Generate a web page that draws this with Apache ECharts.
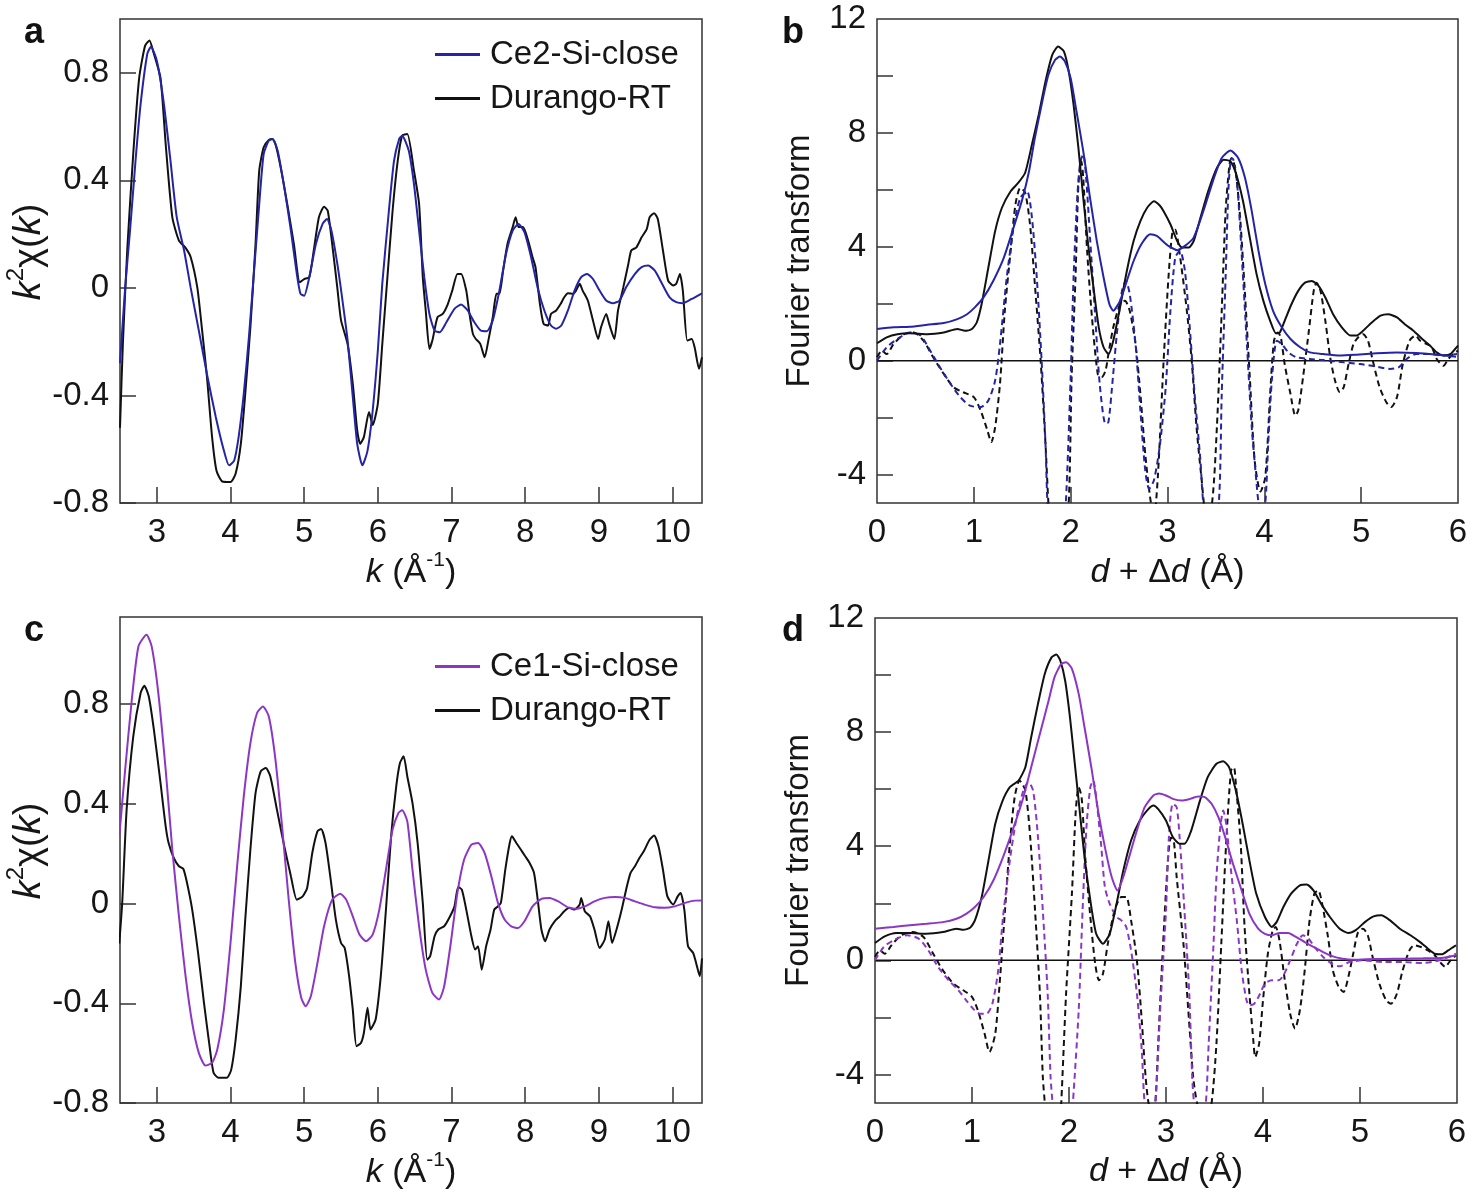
<!DOCTYPE html>
<html><head><meta charset="utf-8">
<script src="https://cdn.jsdelivr.net/npm/echarts@6.0.0/dist/echarts.min.js"></script>
<style>html,body{margin:0;padding:0;background:#fff}#c{width:1481px;height:1200px}</style>
</head><body><div id="c"></div><script>
// ---------- Panel a : k^2 chi(k) ----------
const aDurango = [[2.50,-0.52],[2.54,-0.2],[2.60,0.15],[2.68,0.5],[2.76,0.78],[2.84,0.9],[2.90,0.92],[2.95,0.88],[3.05,0.78],[3.12,0.535],[3.21,0.263],[3.30,0.176],[3.39,0.149],[3.46,0.114],[3.55,0.0],[3.61,-0.146],[3.68,-0.33],[3.75,-0.555],[3.81,-0.68],[3.89,-0.72],[4.0,-0.722],[4.07,-0.69],[4.14,-0.58],[4.20,-0.394],[4.27,-0.146],[4.34,0.164],[4.39,0.436],[4.45,0.523],[4.52,0.55],[4.57,0.554],[4.61,0.535],[4.68,0.449],[4.77,0.312],[4.86,0.164],[4.94,0.021],[5.0,0.033],[5.07,0.04],[5.13,0.139],[5.20,0.263],[5.27,0.302],[5.32,0.287],[5.38,0.164],[5.45,0.0],[5.50,-0.12],[5.59,-0.21],[5.66,-0.357],[5.72,-0.53],[5.76,-0.58],[5.81,-0.555],[5.88,-0.462],[5.93,-0.51],[6.0,-0.43],[6.06,-0.21],[6.13,0.04],[6.20,0.287],[6.27,0.473],[6.33,0.566],[6.40,0.572],[6.49,0.436],[6.56,0.312],[6.61,0.04],[6.65,-0.084],[6.70,-0.227],[6.74,-0.196],[6.81,-0.109],[6.88,-0.097],[6.95,-0.06],[7.01,-0.01],[7.08,0.052],[7.13,0.052],[7.20,-0.01],[7.24,-0.09],[7.29,-0.171],[7.33,-0.19],[7.39,-0.208],[7.45,-0.258],[7.50,-0.196],[7.56,-0.109],[7.61,-0.022],[7.65,-0.022],[7.70,0.064],[7.76,0.164],[7.83,0.226],[7.87,0.263],[7.91,0.226],[7.97,0.226],[8.04,0.176],[8.10,0.114],[8.14,0.077],[8.20,-0.06],[8.25,-0.134],[8.31,-0.14],[8.35,-0.097],[8.42,-0.084],[8.48,-0.06],[8.53,-0.035],[8.58,-0.02],[8.65,-0.022],[8.69,-0.01],[8.74,0.015],[8.78,-0.01],[8.85,-0.047],[8.92,-0.121],[8.99,-0.19],[9.03,-0.146],[9.10,-0.097],[9.14,-0.134],[9.21,-0.19],[9.26,-0.084],[9.33,0.0],[9.40,0.089],[9.44,0.139],[9.51,0.151],[9.58,0.188],[9.65,0.219],[9.69,0.263],[9.75,0.278],[9.80,0.256],[9.87,0.139],[9.94,0.027],[10.01,0.009],[10.05,0.015],[10.10,0.052],[10.14,-0.01],[10.20,-0.196],[10.26,-0.19],[10.30,-0.221],[10.36,-0.301],[10.40,-0.258]];
const aModel = [[2.50,-0.28],[2.57,0.0],[2.64,0.226],[2.71,0.47],[2.78,0.684],[2.87,0.87],[2.92,0.897],[3.0,0.845],[3.09,0.696],[3.18,0.486],[3.27,0.263],[3.37,0.139],[3.46,0.0],[3.57,-0.159],[3.68,-0.32],[3.80,-0.48],[3.91,-0.605],[3.98,-0.66],[4.05,-0.642],[4.11,-0.555],[4.18,-0.394],[4.25,-0.183],[4.32,0.064],[4.39,0.312],[4.45,0.498],[4.52,0.548],[4.57,0.554],[4.64,0.51],[4.73,0.374],[4.82,0.213],[4.90,0.052],[4.95,-0.022],[5.0,-0.029],[5.07,0.04],[5.16,0.164],[5.25,0.238],[5.31,0.256],[5.37,0.213],[5.45,0.089],[5.52,-0.047],[5.59,-0.196],[5.66,-0.406],[5.72,-0.58],[5.79,-0.66],[5.86,-0.605],[5.93,-0.456],[6.0,-0.233],[6.06,0.015],[6.15,0.287],[6.22,0.473],[6.29,0.554],[6.33,0.566],[6.42,0.51],[6.49,0.387],[6.56,0.213],[6.63,0.04],[6.70,-0.097],[6.77,-0.159],[6.84,-0.165],[6.93,-0.128],[7.04,-0.078],[7.13,-0.062],[7.22,-0.084],[7.31,-0.128],[7.40,-0.159],[7.48,-0.161],[7.56,-0.121],[7.65,-0.01],[7.74,0.126],[7.83,0.213],[7.91,0.238],[7.99,0.207],[8.08,0.114],[8.17,0.0],[8.26,-0.084],[8.35,-0.14],[8.42,-0.152],[8.49,-0.14],[8.58,-0.084],[8.67,-0.01],[8.76,0.04],[8.84,0.052],[8.92,0.033],[9.01,-0.01],[9.10,-0.047],[9.19,-0.057],[9.28,-0.047],[9.37,0.002],[9.49,0.052],[9.58,0.077],[9.67,0.083],[9.76,0.064],[9.87,0.009],[9.96,-0.035],[10.05,-0.053],[10.14,-0.057],[10.26,-0.041],[10.40,-0.02]];

// ---------- Panel c : k^2 chi(k) ----------
const cDurango = [[2.49,-0.16],[2.53,0.003],[2.59,0.377],[2.68,0.671],[2.78,0.845],[2.83,0.874],[2.89,0.832],[2.96,0.698],[3.05,0.484],[3.12,0.31],[3.16,0.243],[3.23,0.183],[3.30,0.15],[3.36,0.139],[3.41,0.083],[3.48,-0.024],[3.56,-0.198],[3.64,-0.398],[3.71,-0.559],[3.77,-0.679],[3.84,-0.699],[3.95,-0.699],[4.01,-0.666],[4.07,-0.545],[4.14,-0.332],[4.20,-0.064],[4.27,0.217],[4.34,0.444],[4.41,0.531],[4.48,0.544],[4.54,0.511],[4.63,0.377],[4.73,0.23],[4.82,0.11],[4.90,0.016],[4.98,0.029],[5.04,0.063],[5.11,0.203],[5.18,0.29],[5.23,0.299],[5.29,0.243],[5.36,0.096],[5.43,-0.064],[5.50,-0.158],[5.55,-0.178],[5.61,-0.291],[5.66,-0.425],[5.71,-0.572],[5.77,-0.559],[5.81,-0.519],[5.86,-0.418],[5.90,-0.505],[5.97,-0.465],[6.04,-0.291],[6.11,-0.024],[6.18,0.27],[6.25,0.471],[6.30,0.564],[6.35,0.591],[6.40,0.51],[6.47,0.404],[6.54,0.243],[6.61,0.003],[6.67,-0.225],[6.71,-0.211],[6.77,-0.131],[6.82,-0.104],[6.90,-0.091],[6.97,-0.057],[7.04,-0.011],[7.09,0.067],[7.14,0.056],[7.20,-0.024],[7.27,-0.131],[7.32,-0.184],[7.36,-0.171],[7.41,-0.265],[7.47,-0.171],[7.53,-0.104],[7.58,-0.024],[7.63,-0.011],[7.67,0.003],[7.73,0.136],[7.79,0.243],[7.82,0.27],[7.88,0.243],[7.94,0.217],[8.0,0.19],[8.06,0.163],[8.12,0.123],[8.17,0.016],[8.22,-0.104],[8.27,-0.151],[8.33,-0.104],[8.40,-0.071],[8.47,-0.051],[8.53,-0.031],[8.60,-0.017],[8.67,-0.024],[8.74,-0.004],[8.76,0.023],[8.81,-0.031],[8.88,-0.051],[8.94,-0.104],[9.01,-0.178],[9.08,-0.144],[9.13,-0.071],[9.18,-0.158],[9.24,-0.104],[9.31,-0.024],[9.37,0.056],[9.43,0.123],[9.49,0.15],[9.55,0.183],[9.61,0.21],[9.69,0.257],[9.75,0.273],[9.81,0.23],[9.87,0.136],[9.93,0.029],[10.01,-0.004],[10.07,0.029],[10.11,0.043],[10.16,-0.024],[10.21,-0.171],[10.28,-0.198],[10.32,-0.238],[10.37,-0.291],[10.40,-0.22]];
const cModel = [[2.49,0.27],[2.57,0.537],[2.66,0.818],[2.75,1.032],[2.86,1.079],[2.93,1.032],[3.02,0.845],[3.12,0.537],[3.21,0.217],[3.30,-0.051],[3.39,-0.291],[3.48,-0.479],[3.57,-0.599],[3.66,-0.65],[3.75,-0.639],[3.82,-0.586],[3.91,-0.425],[4.0,-0.158],[4.09,0.15],[4.18,0.43],[4.27,0.644],[4.36,0.765],[4.44,0.791],[4.52,0.751],[4.61,0.578],[4.70,0.31],[4.79,0.016],[4.88,-0.238],[4.96,-0.378],[5.02,-0.412],[5.09,-0.372],[5.18,-0.238],[5.27,-0.091],[5.38,0.016],[5.49,0.04],[5.57,0.016],[5.66,-0.051],[5.75,-0.124],[5.84,-0.151],[5.93,-0.124],[6.02,-0.024],[6.11,0.136],[6.20,0.297],[6.28,0.364],[6.33,0.375],[6.40,0.33],[6.47,0.136],[6.56,-0.091],[6.65,-0.265],[6.74,-0.358],[6.83,-0.385],[6.90,-0.332],[6.99,-0.158],[7.08,0.043],[7.17,0.176],[7.27,0.237],[7.36,0.243],[7.45,0.203],[7.54,0.11],[7.63,0.003],[7.72,-0.064],[7.81,-0.091],[7.90,-0.098],[7.99,-0.071],[8.10,-0.011],[8.22,0.019],[8.33,0.023],[8.45,0.009],[8.58,-0.015],[8.69,-0.021],[8.81,-0.011],[8.94,0.009],[9.08,0.023],[9.22,0.027],[9.35,0.023],[9.49,0.009],[9.62,-0.004],[9.76,-0.015],[9.89,-0.017],[10.03,-0.011],[10.17,0.003],[10.30,0.012],[10.40,0.013]];

// ---------- Panel b : Fourier transform ----------
const bDurango = [[0,0.61],[0.10,0.82],[0.21,0.93],[0.34,0.96],[0.52,0.93],[0.69,0.99],[0.83,1.11],[0.91,1.05],[0.98,1.11],[1.03,1.34],[1.08,1.98],[1.15,3.27],[1.22,4.55],[1.29,5.37],[1.38,5.95],[1.46,6.25],[1.53,6.6],[1.60,7.59],[1.67,8.64],[1.74,9.81],[1.81,10.74],[1.87,11.03],[1.93,10.86],[1.98,10.16],[2.03,8.99],[2.08,7.47],[2.13,5.72],[2.18,4.09],[2.24,2.45],[2.29,1.17],[2.34,0.47],[2.39,0.23],[2.44,0.70],[2.51,1.87],[2.58,3.15],[2.65,4.2],[2.72,4.9],[2.79,5.37],[2.86,5.6],[2.92,5.45],[2.96,5.25],[3.03,4.79],[3.10,4.2],[3.15,3.97],[3.22,3.97],[3.27,4.2],[3.34,5.02],[3.42,5.95],[3.51,6.77],[3.58,7.06],[3.65,7.0],[3.71,6.54],[3.78,5.6],[3.85,4.32],[3.92,3.04],[3.99,2.1],[4.06,1.4],[4.12,0.96],[4.16,0.99],[4.21,1.4],[4.28,1.98],[4.35,2.45],[4.42,2.74],[4.49,2.80],[4.56,2.63],[4.63,2.22],[4.71,1.63],[4.80,1.17],[4.89,0.88],[4.95,0.88],[5.02,1.05],[5.11,1.34],[5.20,1.58],[5.28,1.63],[5.37,1.52],[5.45,1.28],[5.54,1.05],[5.63,0.76],[5.71,0.53],[5.78,0.29],[5.85,0.18],[5.92,0.23],[5.97,0.41],[6.0,0.53]];
const bModel = [[0,1.11],[0.17,1.17],[0.34,1.19],[0.52,1.26],[0.69,1.32],[0.83,1.46],[0.93,1.63],[1.01,1.87],[1.10,2.22],[1.20,2.80],[1.31,3.62],[1.41,4.67],[1.50,5.66],[1.57,6.65],[1.63,7.82],[1.70,8.99],[1.77,10.04],[1.84,10.57],[1.89,10.68],[1.94,10.51],[2.0,9.92],[2.06,8.76],[2.13,7.36],[2.20,5.72],[2.27,4.2],[2.34,2.92],[2.40,1.98],[2.44,1.75],[2.51,2.10],[2.58,2.80],[2.65,3.5],[2.73,4.09],[2.82,4.44],[2.89,4.38],[2.95,4.2],[3.01,4.03],[3.10,3.88],[3.18,4.03],[3.27,4.32],[3.37,5.25],[3.48,6.42],[3.56,7.12],[3.65,7.38],[3.73,7.12],[3.80,6.42],[3.87,5.25],[3.94,3.85],[4.01,2.68],[4.09,1.75],[4.18,1.17],[4.27,0.76],[4.37,0.47],[4.47,0.29],[4.61,0.23],[4.78,0.18],[4.95,0.21],[5.16,0.26],[5.37,0.29],[5.57,0.27],[5.78,0.21],[5.98,0.14]];
const bDurangoIm = [[0,0.12],[0.05,0.35],[0.10,0.23],[0.17,0.58],[0.28,0.93],[0.38,0.99],[0.48,0.70],[0.58,0.12],[0.69,-0.47],[0.79,-0.93],[0.89,-1.11],[1.0,-1.28],[1.07,-1.75],[1.14,-2.45],[1.18,-2.86],[1.22,-2.34],[1.27,-0.82],[1.32,1.75],[1.38,3.85],[1.43,5.49],[1.48,6.07],[1.53,5.9],[1.58,4.79],[1.63,2.69],[1.69,0.0],[1.74,-2.92],[1.77,-5.0],[1.87,-10.5],[1.98,-5.0],[2.01,-0.58],[2.05,2.92],[2.08,6.19],[2.11,7.0],[2.13,6.42],[2.17,3.85],[2.22,1.52],[2.28,-0.47],[2.32,-0.58],[2.36,-0.35],[2.39,0.23],[2.44,1.17],[2.51,1.98],[2.56,2.1],[2.61,1.75],[2.67,0.58],[2.72,-1.17],[2.77,-3.27],[2.82,-4.79],[2.86,-5.5],[2.90,-4.09],[2.96,0],[3.01,2.92],[3.05,4.5],[3.08,4.6],[3.12,3.9],[3.20,1.75],[3.25,0],[3.30,-2.34],[3.35,-4.09],[3.40,-5.4],[3.46,-5.0],[3.51,-2.34],[3.56,1.75],[3.60,5.25],[3.64,6.89],[3.66,7.1],[3.70,6.77],[3.75,5.02],[3.80,2.34],[3.85,-0.58],[3.90,-3.5],[3.96,-4.6],[4.01,-4.09],[4.06,-1.17],[4.10,0.7],[4.14,0.99],[4.17,0.82],[4.21,-0.12],[4.27,-1.17],[4.32,-1.93],[4.35,-1.75],[4.40,-0.58],[4.46,1.05],[4.51,2.45],[4.54,2.74],[4.58,2.45],[4.63,1.4],[4.68,0.12],[4.73,-0.7],[4.78,-1.11],[4.82,-0.93],[4.87,-0.12],[4.92,0.58],[4.97,0.82],[5.02,0.93],[5.07,0.70],[5.12,0],[5.19,-0.93],[5.26,-1.46],[5.31,-1.63],[5.37,-1.28],[5.43,-0.12],[5.50,0.7],[5.56,0.88],[5.61,0.70],[5.68,0.58],[5.73,0.47],[5.78,0.06],[5.85,-0.18],[5.90,0.06],[5.95,0.23],[6.0,0.35]];
const bModelIm = [[0,0],[0.10,0.47],[0.21,0.76],[0.34,0.99],[0.45,0.88],[0.55,0.35],[0.65,-0.23],[0.76,-0.82],[0.86,-1.28],[0.96,-1.58],[1.07,-1.63],[1.15,-1.4],[1.22,-0.7],[1.27,0.58],[1.34,2.92],[1.41,4.67],[1.48,5.72],[1.55,5.95],[1.60,5.02],[1.65,2.92],[1.70,0],[1.74,-2.92],[1.76,-5.0],[1.85,-10.2],[1.95,-5.0],[2.0,-0.58],[2.03,2.92],[2.07,5.84],[2.10,7.0],[2.13,7.24],[2.16,6.42],[2.20,4.32],[2.25,1.75],[2.30,-0.82],[2.36,-2.22],[2.39,-2.16],[2.43,-0.82],[2.48,1.05],[2.53,2.45],[2.57,2.80],[2.61,2.34],[2.67,0.58],[2.72,-1.75],[2.77,-3.85],[2.81,-4.5],[2.86,-4.2],[2.92,-3.0],[2.98,-1.0],[3.03,1.75],[3.08,3.62],[3.13,3.85],[3.18,3.15],[3.23,1.17],[3.28,-1.17],[3.34,-3.5],[3.37,-5.0],[3.45,-6.5],[3.53,-5.0],[3.56,-1.17],[3.60,2.92],[3.63,6.07],[3.66,7.12],[3.68,7.06],[3.72,6.19],[3.77,3.5],[3.82,0.58],[3.87,-2.34],[3.92,-4.32],[3.94,-5.0],[3.97,-5.5],[4.01,-5.0],[4.04,-2.92],[4.08,-0.58],[4.13,0.7],[4.18,0.58],[4.25,0.29],[4.33,0.12],[4.47,0.06],[4.61,0.02],[4.82,-0.06],[4.99,-0.12],[5.16,-0.21],[5.30,-0.29],[5.39,-0.23],[5.47,0.06],[5.57,0.23],[5.71,0.23],[5.85,0.18],[5.99,0.23]];

// ---------- Panel d : Fourier transform ----------
const dDurango = [[0,0.61],[0.10,0.84],[0.22,0.96],[0.36,0.96],[0.53,0.93],[0.70,0.99],[0.84,1.11],[0.91,1.07],[0.98,1.14],[1.03,1.4],[1.10,2.22],[1.17,3.5],[1.24,4.79],[1.31,5.55],[1.39,6.07],[1.48,6.3],[1.55,6.77],[1.61,7.82],[1.68,8.99],[1.75,10.04],[1.82,10.62],[1.87,10.72],[1.91,10.51],[1.96,9.81],[2.01,8.52],[2.06,6.89],[2.11,5.25],[2.16,3.62],[2.22,2.1],[2.28,0.93],[2.35,0.58],[2.42,0.93],[2.49,1.98],[2.56,3.15],[2.64,4.2],[2.73,4.9],[2.82,5.31],[2.87,5.43],[2.92,5.3],[3.0,4.9],[3.07,4.32],[3.14,4.09],[3.19,4.09],[3.26,4.55],[3.35,5.6],[3.43,6.42],[3.52,6.89],[3.59,6.98],[3.65,6.77],[3.72,5.95],[3.79,4.79],[3.86,3.5],[3.93,2.34],[4.02,1.52],[4.09,1.17],[4.14,1.34],[4.21,1.87],[4.29,2.34],[4.38,2.63],[4.45,2.66],[4.52,2.45],[4.60,1.98],[4.69,1.52],[4.79,1.11],[4.88,0.96],[4.96,1.07],[5.05,1.34],[5.14,1.54],[5.22,1.58],[5.31,1.4],[5.41,1.11],[5.52,0.88],[5.62,0.64],[5.70,0.41],[5.77,0.23],[5.84,0.21],[5.91,0.35],[5.99,0.53]];
const dModel = [[0,1.11],[0.19,1.17],[0.36,1.23],[0.53,1.28],[0.70,1.34],[0.84,1.46],[0.94,1.63],[1.03,1.87],[1.12,2.22],[1.22,2.8],[1.32,3.62],[1.43,4.67],[1.53,5.72],[1.61,6.77],[1.70,7.94],[1.79,9.11],[1.85,9.92],[1.92,10.39],[1.97,10.45],[2.03,10.22],[2.10,9.34],[2.16,8.17],[2.23,6.77],[2.30,5.25],[2.37,3.97],[2.44,2.92],[2.50,2.45],[2.56,2.92],[2.63,3.74],[2.70,4.55],[2.78,5.37],[2.87,5.78],[2.93,5.85],[3.0,5.78],[3.07,5.66],[3.16,5.6],[3.25,5.66],[3.33,5.74],[3.40,5.72],[3.47,5.49],[3.54,5.02],[3.61,4.32],[3.69,3.39],[3.78,2.45],[3.86,1.63],[3.95,1.11],[4.02,0.93],[4.09,0.88],[4.17,0.96],[4.26,0.96],[4.34,0.82],[4.43,0.64],[4.52,0.47],[4.62,0.29],[4.72,0.14],[4.82,0.06],[4.93,0.02],[5.07,0.04],[5.24,0.05],[5.45,0.06],[5.65,0.07],[5.86,0.09],[5.99,0.18]];
const dDurangoIm = [[0,0.12],[0.05,0.35],[0.10,0.23],[0.17,0.53],[0.27,0.88],[0.39,0.99],[0.50,0.82],[0.60,0.23],[0.70,-0.35],[0.81,-0.82],[0.91,-1.05],[1.0,-1.28],[1.06,-1.75],[1.13,-2.57],[1.18,-3.21],[1.24,-2.57],[1.29,-0.58],[1.34,1.75],[1.39,4.09],[1.44,5.72],[1.49,6.3],[1.55,5.95],[1.60,4.32],[1.65,1.75],[1.70,-1.17],[1.73,-4.09],[1.75,-5.0],[1.83,-10.5],[1.92,-5.0],[1.97,-1.17],[2.03,2.34],[2.07,5.25],[2.10,6.07],[2.13,5.72],[2.17,3.5],[2.22,1.52],[2.27,-0.12],[2.31,-0.7],[2.35,-0.47],[2.40,0.58],[2.47,1.75],[2.54,2.22],[2.59,2.22],[2.64,1.4],[2.70,0],[2.75,-2.1],[2.79,-4.09],[2.82,-5.0],[2.86,-5.4],[2.89,-5.0],[2.92,-2.92],[2.97,0.58],[3.02,3.5],[3.05,4.3],[3.08,4.2],[3.11,2.92],[3.18,0.58],[3.23,-1.75],[3.28,-4.09],[3.32,-5.0],[3.40,-6.0],[3.47,-5.0],[3.52,-2.92],[3.57,0.58],[3.62,4.09],[3.67,6.65],[3.70,6.77],[3.72,6.19],[3.77,4.09],[3.81,1.17],[3.86,-1.17],[3.90,-2.8],[3.92,-3.39],[3.96,-2.92],[4.0,-1.4],[4.05,0.23],[4.10,1.05],[4.13,1.17],[4.17,0.7],[4.22,-0.58],[4.28,-1.87],[4.33,-2.39],[4.38,-1.75],[4.43,-0.35],[4.48,1.4],[4.53,2.34],[4.57,2.45],[4.61,1.98],[4.67,0.82],[4.72,-0.35],[4.78,-0.93],[4.83,-1.11],[4.88,-0.58],[4.93,0.23],[4.98,0.99],[5.03,1.11],[5.08,0.88],[5.13,0.12],[5.20,-0.82],[5.27,-1.4],[5.32,-1.52],[5.38,-1.17],[5.44,-0.35],[5.51,0.35],[5.56,0.53],[5.63,0.47],[5.70,0.35],[5.77,0.18],[5.84,-0.12],[5.88,-0.23],[5.92,-0.06],[5.99,0.18]];
const dModelIm = [[0,0],[0.09,0.47],[0.19,0.7],[0.33,0.88],[0.45,0.76],[0.55,0.35],[0.65,-0.23],[0.76,-0.7],[0.86,-1.05],[0.94,-1.4],[1.01,-1.69],[1.08,-1.87],[1.15,-1.87],[1.21,-1.52],[1.27,-0.35],[1.32,1.52],[1.39,3.5],[1.46,5.02],[1.53,5.95],[1.58,6.25],[1.63,5.95],[1.68,4.32],[1.73,1.75],[1.78,-1.17],[1.81,-4.09],[1.83,-5.0],[1.93,-10.0],[2.04,-5.0],[2.10,-1.75],[2.14,1.75],[2.18,4.67],[2.22,6.07],[2.25,6.3],[2.28,5.72],[2.33,4.09],[2.37,2.57],[2.42,1.98],[2.49,1.52],[2.54,1.4],[2.59,1.17],[2.64,0.35],[2.70,-1.17],[2.75,-3.15],[2.78,-5.0],[2.84,-6.0],[2.89,-5.0],[2.94,-1.75],[3.0,1.75],[3.03,4.32],[3.07,5.49],[3.11,5.37],[3.14,4.32],[3.19,1.75],[3.24,-1.17],[3.27,-4.09],[3.29,-5.0],[3.35,-6.0],[3.41,-5.0],[3.44,-2.92],[3.49,0.58],[3.52,2.92],[3.56,4.67],[3.59,5.25],[3.62,4.79],[3.67,3.15],[3.73,1.4],[3.78,-0.35],[3.83,-1.4],[3.86,-1.58],[3.91,-1.52],[3.97,-1.17],[4.02,-0.82],[4.09,-0.7],[4.16,-0.7],[4.21,-0.53],[4.28,0],[4.35,0.58],[4.41,0.88],[4.47,0.76],[4.53,0.47],[4.62,0.12],[4.71,-0.12],[4.79,-0.21],[4.89,-0.06],[5.03,0],[5.24,-0.06],[5.44,-0.06],[5.65,-0.09],[5.82,0],[5.99,0.23]];
const zeroLine = [[0,0],[6,0]];

// ---------- tick labels ----------
const kTicks = [3,4,5,6,7,8,9,10];
const chiTicks = [-0.8,-0.4,0,0.4,0.8];
const rLabels = [0,1,2,3,4,5,6];
const rTicks = [1,2,3,4,5];
const ftLabels = [-4,0,4,8,12];
const ftTicks = [-4,-2,0,2,4,6,8,10];

const FONT = '"Liberation Sans", Arial, Helvetica, sans-serif';
const TXT = '#161616';
const FS = 33;
const BLACK = '#111111', BLUE = '#2424a6', PURPLE = '#8c36c6';

const rich = {
  i: {fontStyle: 'italic', fontSize: 34, fontFamily: FONT, color: TXT, lineHeight: 46},
  s: {fontSize: 21, fontFamily: FONT, color: TXT, verticalAlign: 'top', lineHeight: 23},
  n: {fontSize: 34, fontFamily: FONT, color: TXT, lineHeight: 46},
  yi: {fontStyle: 'italic', fontSize: 38, fontFamily: FONT, color: TXT, lineHeight: 50},
  ys: {fontSize: 24, fontFamily: FONT, color: TXT, verticalAlign: 'top', lineHeight: 26},
  yn: {fontSize: 38, fontFamily: FONT, color: TXT, lineHeight: 50}
};

function axis(gi, min, max, ticks, labels, name, gap, isY, namePad) {
  return {
    type: 'value', gridIndex: gi, min: min, max: max,
    axisLine: {show: false, onZero: false},
    axisTick: {show: true, inside: true, length: 16, lineStyle: {color: '#333', width: 1.5}, customValues: ticks},
    axisLabel: {show: true, customValues: labels, margin: isY ? 11 : 13, color: TXT, fontSize: FS, fontFamily: FONT},
    splitLine: {show: false},
    name: name, nameLocation: 'middle', nameGap: gap, nameRotate: isY ? 90 : 0,
    nameTextStyle: {fontSize: FS, fontFamily: FONT, color: TXT, rich: rich, padding: namePad || 0}
  };
}

function line(name, data, gi, color, dashed, width) {
  return {
    name: name, type: 'line', xAxisIndex: gi, yAxisIndex: gi, data: data,
    showSymbol: false, symbol: 'none', clip: true, smooth: dashed ? 0.25 : 0.2,
    color: color, itemStyle: {color: color},
    lineStyle: {color: color, width: width || 2, type: dashed ? [6, 4] : 'solid'},
    emphasis: {disabled: true}, silent: true
  };
}

const grids = [
  {left: 120, top: 19, width: 582, height: 484},
  {left: 877, top: 19, width: 581, height: 484},
  {left: 120, top: 617, width: 582, height: 486},
  {left: 875, top: 618, width: 582, height: 485}
].map(g => Object.assign(g, {show: true, borderColor: '#333', borderWidth: 1.5, backgroundColor: 'transparent'}));

const letter = (t, l, tp) => ({text: t, left: l, top: tp, padding: 0, textStyle: {fontSize: 36, fontWeight: 'bold', fontFamily: FONT, color: '#111'}});

const legendCfg = (names, top) => ({
  data: names, orient: 'vertical', left: 435, top: top, padding: 0,
  itemWidth: 45, itemHeight: 3, itemGap: 11, icon: 'rect', selectedMode: false,
  textStyle: {fontSize: FS, fontFamily: FONT, color: TXT, padding: [0, 0, 0, 5]}
});

const yName = '{yi|k}{ys|2}{yn|χ(}{yi|k}{yn|)}';
const kName = '{i|k}{n| (Å}{s|-1}{n|)}';
const rName = '{i|d}{n| + Δ}{i|d}{n| (Å)}';

const option = {
  animation: false,
  backgroundColor: '#fff',
  title: [letter('a', 24, 15), letter('b', 782, 15), letter('c', 24, 613), letter('d', 782, 613)],
  legend: [legendCfg(['Ce2-Si-close', 'Durango-RT'], 38), legendCfg(['Ce1-Si-close', 'Durango-RT '], 650)],
  grid: grids,
  xAxis: [
    axis(0, 2.5, 10.4, kTicks, kTicks, kName, 47, false),
    axis(1, 0, 6, rTicks, rLabels, rName, 47, false),
    axis(2, 2.5, 10.4, kTicks, kTicks, kName, 46, false),
    axis(3, 0, 6, rTicks, rLabels, rName, 46, false)
  ],
  yAxis: [
    axis(0, -0.8, 1.0, chiTicks, chiTicks, yName, 55, true, [0, 0, 0, 18]),
    axis(1, -5, 12, ftTicks, ftLabels, 'Fourier transform', 61, true),
    axis(2, -0.8, 1.15, chiTicks, chiTicks, yName, 55, true, [0, 0, 0, 18]),
    axis(3, -5, 12, ftTicks, ftLabels, 'Fourier transform', 60, true)
  ],
  series: [
    line('Durango-RT', aDurango, 0, BLACK, false),
    line('Ce2-Si-close', aModel, 0, BLUE, false),

    line('zero-b', zeroLine, 1, BLACK, false, 1.5),
    line('Durango-RT Im b', bDurangoIm, 1, BLACK, true),
    line('Ce2 Im b', bModelIm, 1, BLUE, true),
    line('Durango-RT FT b', bDurango, 1, BLACK, false),
    line('Ce2 FT b', bModel, 1, BLUE, false),

    line('Durango-RT ', cDurango, 2, BLACK, false),
    line('Ce1-Si-close', cModel, 2, PURPLE, false),

    line('zero-d', zeroLine, 3, BLACK, false, 1.5),
    line('Durango-RT Im d', dDurangoIm, 3, BLACK, true),
    line('Ce1 Im d', dModelIm, 3, PURPLE, true),
    line('Durango-RT FT d', dDurango, 3, BLACK, false),
    line('Ce1 FT d', dModel, 3, PURPLE, false)
  ]
};

const chart = echarts.init(document.getElementById('c'), null, {renderer: 'canvas'});
chart.setOption(option);
</script></body></html>
